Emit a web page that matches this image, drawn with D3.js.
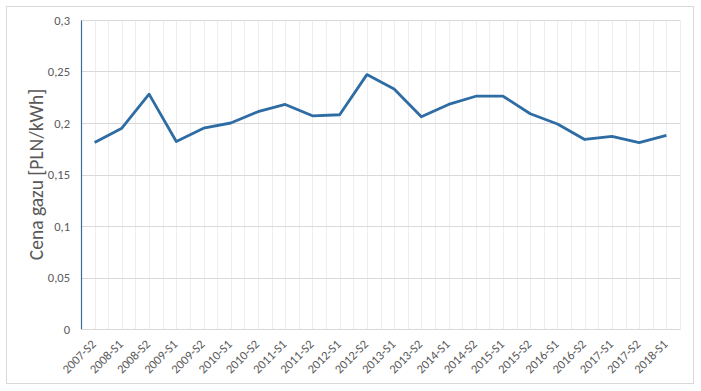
<!DOCTYPE html>
<html>
<head>
<meta charset="utf-8">
<script src="https://cdn.jsdelivr.net/npm/d3@7"></script>
<style>
  body { margin: 0; background: #fff; }
  text { font-family: Carlito, "Liberation Sans", sans-serif; fill: #595959; }
</style>
</head>
<body>
<div id="chart"></div>
<script>
var periods = ["2007-S2","2008-S1","2008-S2","2009-S1","2009-S2","2010-S1","2010-S2","2011-S1","2011-S2","2012-S1","2012-S2",
  "2013-S1","2013-S2","2014-S1","2014-S2","2015-S1","2015-S2","2016-S1","2016-S2","2017-S1","2017-S2","2018-S1"];
var prices = [0.181,0.195,0.228,0.182,0.195,0.200,0.211,0.218,0.207,0.208,0.247,
  0.233,0.206,0.218,0.226,0.226,0.209,0.199,0.184,0.187,0.181,0.188];
var yTicks = [0,0.05,0.1,0.15,0.2,0.25,0.3];

var W = 701, H = 391;
var margin = {top: 20, right: 21, bottom: 62, left: 81},
    width = W - margin.left - margin.right,
    height = H - margin.top - margin.bottom;

var svg = d3.select("#chart").append("svg")
    .attr("width", W)
    .attr("height", H);

// outer frame
svg.append("rect")
    .attr("x", 6.5).attr("y", 6.5)
    .attr("width", 687).attr("height", 377)
    .attr("fill", "#fff")
    .attr("stroke", "#d9d9d9");

var g = svg.append("g")
    .attr("transform", "translate(" + margin.left + "," + margin.top + ")");

var x = d3.scaleBand().domain(periods).range([0, width]);
var y = d3.scaleLinear().domain([0, 0.3]).range([height, 0]);

// vertical grid: band edges and centers
var vlines = [];
periods.forEach(function(p, i) {
  vlines.push(x(p) + x.bandwidth() / 2);
  vlines.push(x(p) + x.bandwidth());
});
g.append("g").selectAll("line")
    .data(vlines)
  .enter().append("line")
    .attr("x1", function(d) { return Math.round(d) + 0.5; })
    .attr("x2", function(d) { return Math.round(d) + 0.5; })
    .attr("y1", 0).attr("y2", height)
    .attr("stroke", "#eeeeee");

// horizontal grid
g.append("g").selectAll("line")
    .data(yTicks.slice(1))
  .enter().append("line")
    .attr("x1", 0).attr("x2", width)
    .attr("y1", function(d) { return Math.round(y(d)) + 0.5; })
    .attr("y2", function(d) { return Math.round(y(d)) + 0.5; })
    .attr("stroke", "#d9d9d9");

// y axis
var yAxis = g.append("g")
    .call(d3.axisLeft(y).tickValues(yTicks).tickSize(0).tickPadding(11)
      .tickFormat(function(d) { return String(d).replace(".", ","); }));
yAxis.select(".domain").attr("stroke", "#3d6a94").attr("stroke-width", 1.2);
yAxis.selectAll("text").style("font-size", "12.5px").attr("fill", "#595959");

// x axis
var xAxis = g.append("g")
    .attr("transform", "translate(0," + height + ")")
    .call(d3.axisBottom(x).tickSize(0).tickPadding(0));
xAxis.select(".domain").attr("stroke", "#d9d9d9");
xAxis.selectAll("text")
    .style("font-size", "12.5px")
    .attr("fill", "#595959")
    .attr("text-anchor", "end")
    .attr("y", 0)
    .attr("dy", null)
    .attr("transform", "translate(2,16) rotate(-45)");

// line
var line = d3.line()
    .x(function(d, i) { return x(periods[i]) + x.bandwidth() / 2; })
    .y(function(d) { return y(d); });

g.append("path")
    .datum(prices)
    .attr("fill", "none")
    .attr("stroke", "#2e6ca4")
    .attr("stroke-width", 2.8)
    .attr("stroke-linejoin", "round")
    .attr("d", line);

// y title
svg.append("text")
    .attr("transform", "translate(43," + (margin.top + height / 2) + ") rotate(-90)")
    .attr("text-anchor", "middle")
    .style("font-size", "19.5px")
    .text("Cena gazu [PLN/kWh]");
</script>
</body>
</html>
